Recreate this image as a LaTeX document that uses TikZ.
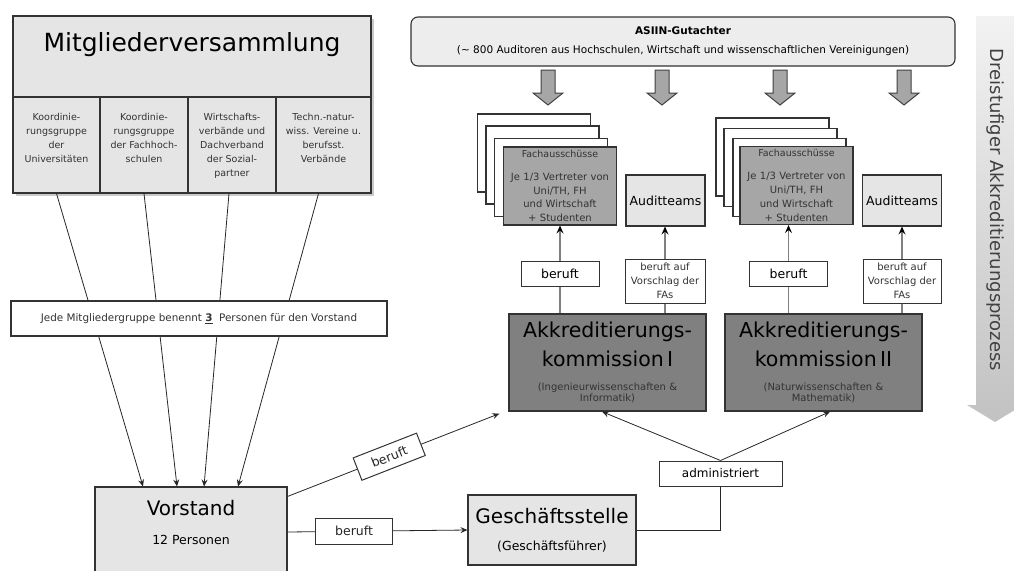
\documentclass[tikz,border=0pt]{standalone}
\usepackage{fontspec}
\setmainfont{DejaVu Sans}
\usetikzlibrary{arrows.meta,shadows}
\tikzset{every picture/.append style={x=1pt,y=-1pt}}
\tikzset{box/.style={rectangle, draw=black!80, line width=1.1pt, inner sep=0pt}}
\tikzset{greybox/.style={box, fill=black!10}}
\tikzset{memberbox/.style={greybox, drop shadow={shadow xshift=2.5pt, shadow yshift=-2.5pt, fill=black!35, opacity=0.6}}}
\tikzset{grouplabel/.style={anchor=north, inner sep=0pt, yshift=-17pt, align=center, text=black!80, font=\fontsize{9.5}{14}\selectfont}}
\tikzset{faback/.style={box, fill=white, minimum width=113pt, minimum height=78pt}}
\tikzset{fafront/.style={box, fill=black!35, minimum width=113pt, minimum height=78pt, text width=111pt, align=center, text=black!80, font=\fontsize{10}{13.7}\selectfont}}
\tikzset{auditbox/.style={greybox, minimum width=79pt, minimum height=51pt, font=\fontsize{12.5}{15}\selectfont}}
\tikzset{textbox/.style={box, fill=white, line width=1pt, font=\fontsize{12.5}{15}\selectfont}}
\tikzset{kommbox/.style={box, fill=black!50, line width=1.3pt, minimum width=197pt, minimum height=97pt, text width=195pt, align=center}}
\tikzset{edge/.style={line width=0.8pt, black!85}}
\tikzset{arc/.style={edge, -{Stealth[length=7pt, width=6pt, inset=2.5pt]}}}
\tikzset{grayline/.style={line width=1.5pt, black!50}}
\tikzset{grayarc/.style={grayline, -{Stealth[length=8pt, width=7pt, inset=3pt, color=black]}}}
\tikzset{blockarrow/.style={draw=black!75, fill=black!35, line width=1pt, line join=miter}}
\begin{document}
\begin{tikzpicture}
%organisation chart: general assembly, board, office, accreditation commissions and auditors
\useasboundingbox (0,0) rectangle (1014,570);
\node (mv) at (192,56.5)[memberbox, minimum width=358pt, minimum height=81pt, label={[anchor=north, inner sep=0pt, yshift=-17pt, font=\fontsize{25}{30}\selectfont]north:{Mitgliederversammlung}}]{};
\node (g1) at (56.5,145)[memberbox, minimum width=87pt, minimum height=96pt, label={[grouplabel]north:{Koordinie-\\rungsgruppe\\der\\Universitäten}}]{};
\node (g2) at (144,145)[memberbox, minimum width=88pt, minimum height=96pt, label={[grouplabel]north:{Koordinie-\\rungsgruppe\\der Fachhoch-\\schulen}}]{};
\node (g3) at (232,145)[memberbox, minimum width=88pt, minimum height=96pt, label={[grouplabel]north:{Wirtschafts-\\verbände und\\Dachverband\\der Sozial-\\partner}}]{};
\node (g4) at (323.5,145)[memberbox, minimum width=95pt, minimum height=96pt, label={[grouplabel]north:{Techn.-natur-\\wiss. Vereine u.\\berufsst.\\Verbände}}]{};
\node (vorstand) at (191,532)[greybox, minimum width=192pt, minimum height=90pt, label={[anchor=north, inner sep=0pt, yshift=-14pt, align=center, font=\fontsize{20}{29}\selectfont]north:{Vorstand\\\fontsize{12.5}{15}\selectfont 12 Personen}}]{};
\draw[arc] (g1.south)--([xshift=-48pt]vorstand.north);
\draw[arc] (g2.south)--([xshift=-14pt]vorstand.north);
\draw[arc] ([xshift=-3pt]g3.south)--([xshift=13pt]vorstand.north);
\draw[arc] ([xshift=-5pt]g4.south)--([xshift=47pt]vorstand.north);
\node (jede) at (199,318.5)[box, fill=white, minimum width=376pt, minimum height=35pt, font=\fontsize{10.4}{12}\selectfont, text=black!80]{Jede Mitgliedergruppe benennt \underline{\textbf{3}}\ \ Personen für den Vorstand};
\node (asiin) at (683,41.5)[greybox, fill=black!7, rounded corners=7pt, minimum width=544pt, minimum height=49pt, align=center, font=\fontsize{10.5}{19}\selectfont]{\textbf{ASIIN-Gutachter}\\(\textasciitilde{} 800 Auditoren aus Hochschulen, Wirtschaft und wissenschaftlichen Vereinigungen)};
\coordinate (p1) at (548,70);
\coordinate (p2) at (662,70);
\coordinate (p3) at (780,70);
\coordinate (p4) at (904,70);
\draw[blockarrow] (p1) ++(-7,0) -- ++(14,0) -- ++(0,23) -- ++(8,0) -- ++(-15,12) -- ++(-15,-12) -- ++(8,0) -- cycle;
\draw[blockarrow] (p2) ++(-7,0) -- ++(14,0) -- ++(0,23) -- ++(8,0) -- ++(-15,12) -- ++(-15,-12) -- ++(8,0) -- cycle;
\draw[blockarrow] (p3) ++(-7,0) -- ++(14,0) -- ++(0,23) -- ++(8,0) -- ++(-15,12) -- ++(-15,-12) -- ++(8,0) -- cycle;
\draw[blockarrow] (p4) ++(-7,0) -- ++(14,0) -- ++(0,23) -- ++(8,0) -- ++(-15,12) -- ++(-15,-12) -- ++(8,0) -- cycle;
\coordinate (d) at (995,16);
\shade[top color=black!5, bottom color=black!24] (d) ++(-19,0) -- ++(38,0) -- ++(0,389) -- ++(9,0) -- ++(-28,17) -- ++(-28,-17) -- ++(9,0) -- cycle;
\node (dreistufig) at (995,210)[rotate=-90, font=\fontsize{18}{20}\selectfont, text=black!75]{Dreistufiger Akkreditierungsprozess};
\node (fa1c) at (534,153)[faback]{};
\node (fa1b) at (542.5,165)[faback]{};
\node (fa1a) at (551,177.5)[faback]{};
\node (fa1) at (560,186)[fafront]{{\fontsize{9.5}{11}\selectfont Fachausschüsse\par}\vspace{9.3pt}Je 1/3 Vertreter von\\Uni/TH, FH\\und Wirtschaft\\+ Studenten};
\node (fa2c) at (772.5,157)[faback]{};
\node (fa2b) at (780.5,167.5)[faback]{};
\node (fa2a) at (789.5,177.5)[faback]{};
\node (fa2) at (796.5,185.5)[fafront]{{\fontsize{9.5}{11}\selectfont Fachausschüsse\par}\vspace{9.3pt}Je 1/3 Vertreter von\\Uni/TH, FH\\und Wirtschaft\\+ Studenten};
\node (audit1) at (665.5,200.5)[auditbox]{Auditteams};
\node (audit2) at (902,200.5)[auditbox]{Auditteams};
\node (ber1) at (560,273.5)[textbox, minimum width=78pt, minimum height=25pt]{beruft};
\node (ber2) at (788.5,274)[textbox, minimum width=78pt, minimum height=25pt]{beruft};
\node (vor1) at (665,281)[textbox, minimum width=80pt, minimum height=44pt, align=center, font=\fontsize{10}{14}\selectfont, text=black!80]{beruft auf\\Vorschlag der\\FAs};
\node (vor2) at (902,281)[textbox, minimum width=78pt, minimum height=44pt, align=center, font=\fontsize{10}{14}\selectfont, text=black!80]{beruft auf\\Vorschlag der\\FAs};
\node (komm1) at (607.5,362.5)[kommbox]{{\fontsize{20.5}{29}\selectfont Akkreditierungs-\\kommission I\par}\vspace{12.5pt}{\fontsize{10}{11.5}\selectfont\color{black!80}(Ingenieurwissenschaften \&\\Informatik)\par}};
\node (komm2) at (823.5,362.5)[kommbox]{{\fontsize{20.5}{29}\selectfont Akkreditierungs-\\kommission II\par}\vspace{12.5pt}{\fontsize{10}{11.5}\selectfont\color{black!80}(Naturwissenschaften \&\\Mathematik)\par}};
\draw[grayline] (ber1.south)--(ber1.south |- komm1.north);
\draw[grayarc] (ber1.north)--(ber1.north |- fa1.south);
\draw[grayline] (vor1.south)--(vor1.south |- komm1.north);
\draw[grayarc] (vor1.north)--(vor1.north |- audit1.south);
\draw[grayline] (ber2.south)--(ber2.south |- komm2.north);
\draw[grayarc] (ber2.north)--(ber2.north |- fa2.south);
\draw[grayline] (vor2.south)--(vor2.south |- komm2.north);
\draw[grayarc] (vor2.north)--(vor2.north |- audit2.south);
\node (gs) at (552,530)[greybox, minimum width=168pt, minimum height=70pt, align=center, font=\fontsize{20}{27}\selectfont]{Geschäftsstelle\\\fontsize{12.5}{15}\selectfont(Geschäftsführer)};
\node (admin) at (720.5,473.5)[textbox, minimum width=123pt, minimum height=25pt, font=\fontsize{12}{14}\selectfont]{administriert};
\draw[arc] (admin.north)--([xshift=-5.5pt]komm1.south);
\draw[arc] (admin.north)--([xshift=6.5pt]komm2.south);
\draw[edge] (gs.east)-|(admin.south);
\draw[arc] (vorstand.east)--(gs.west)node [pos=0.37, textbox, minimum width=77pt, minimum height=26pt]{beruft};
\draw[arc] ([yshift=-10pt]vorstand.north east)--([xshift=-9pt,yshift=-2pt]komm1.south west)node [pos=0.48, sloped, textbox, minimum width=68pt, minimum height=24pt]{beruft};
\end{tikzpicture}
\end{document}
